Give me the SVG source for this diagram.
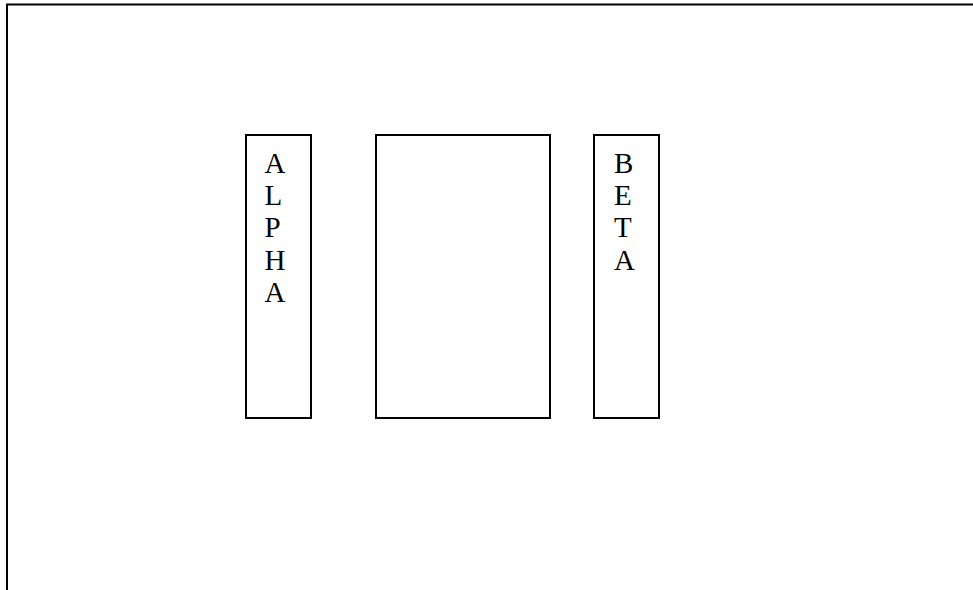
<svg xmlns="http://www.w3.org/2000/svg" width="973" height="590" viewBox="0 0 973 590">
<style>
.box{fill:#fff;stroke:#000;stroke-width:2}
.lbl{font-family:"Liberation Serif","Times New Roman",serif;font-size:29px;fill:#000}
</style>
<rect width="973" height="590" fill="#fff"/>
<g id="frame"><path d="M7,590 V4.5 H973" fill="none" stroke="#000" stroke-width="2"/></g>
<g id="alpha">
<rect class="box" x="246" y="135" width="65" height="283"/>
<text class="lbl" x="264.5" y="172.7">A</text>
<text class="lbl" x="264.5" y="205">L</text>
<text class="lbl" x="264.5" y="237.2">P</text>
<text class="lbl" x="264.5" y="269.5">H</text>
<text class="lbl" x="264.5" y="301.7">A</text>
</g>
<g id="middle"><rect class="box" x="376" y="135" width="174" height="283"/></g>
<g id="beta">
<rect class="box" x="594" y="135" width="65" height="283"/>
<text class="lbl" x="614" y="172.7">B</text>
<text class="lbl" x="614" y="205">E</text>
<text class="lbl" x="614" y="237.2">T</text>
<text class="lbl" x="614" y="269.5">A</text>
</g>
<g id="connectors"/>
</svg>
